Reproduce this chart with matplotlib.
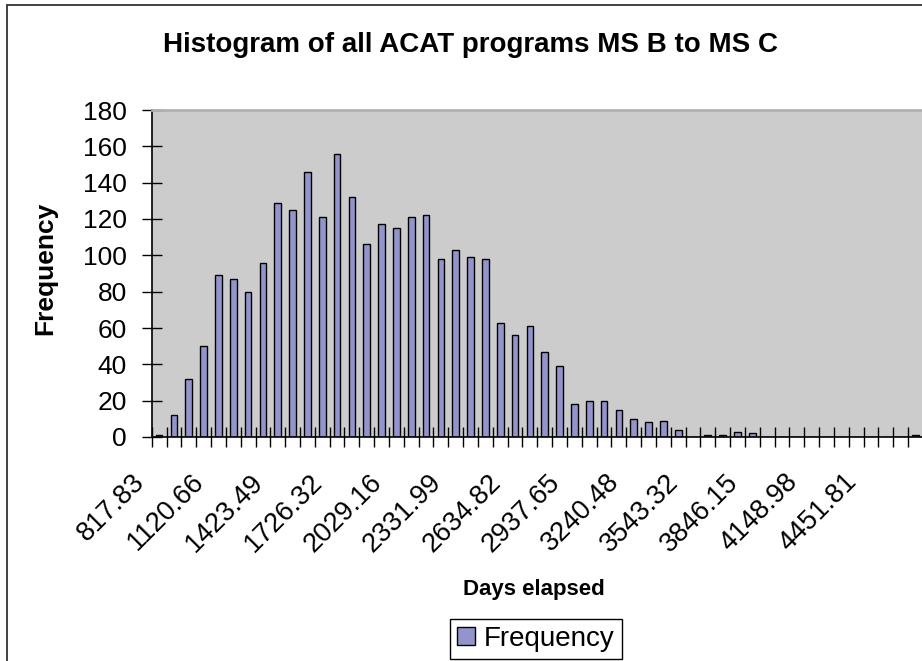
import numpy as np
import matplotlib
matplotlib.use('Agg')
import matplotlib.pyplot as plt
from matplotlib.patches import Rectangle
from matplotlib.transforms import ScaledTranslation

plt.rcParams['font.family'] = ['Liberation Sans', 'DejaVu Sans']

# histogram counts, one per bin (52 bins)
frequency = [1, 12, 32, 50, 89, 87, 80, 96, 129, 125, 146, 121, 156, 132, 106,
             117, 115, 121, 122, 98, 103, 99, 98, 63, 56, 61, 47, 39, 18, 20,
             20, 15, 10, 8, 9, 4, 0, 1, 1, 3, 2, 0, 0, 0, 0, 0, 0, 0, 0, 0, 0, 1]
# Excel only prints every 4th bin label
label_step = 4
bin_labels = ['817.83', '1120.66', '1423.49', '1726.32', '2029.16', '2331.99',
              '2634.82', '2937.65', '3240.48', '3543.32', '3846.15', '4148.98',
              '4451.81']
y_ticks = [0, 20, 40, 60, 80, 100, 120, 140, 160, 180]

W, H = 922, 661
fig = plt.figure(figsize=(W / 100, H / 100), dpi=100)

# chart area border (cropped on right and bottom)
fig.add_artist(Rectangle((6.5 / W, -0.1), 1.2, 1.1 - 4.5 / H, transform=fig.transFigure,
                         fill=False, edgecolor='#333333', linewidth=1.3))

n = len(frequency)
ax = fig.add_axes([151.7 / W, 224 / H, 14.83 * n / W, 327 / H])
ax.set_facecolor('#cccccc')
x = np.arange(n)
bars = ax.bar(x, frequency, width=0.45, color='#9494cc', edgecolor='black',
              linewidth=1.0, label='Frequency')

ax.set_xlim(-0.5, n - 0.5)
ax.set_ylim(0, 180)
ax.set_yticks(y_ticks)
ax.tick_params(axis='y', direction='inout', length=14.4, width=1, pad=10.6,
               labelsize=19)

ax.set_xticks(x[::label_step], bin_labels)
ax.set_xticks(np.arange(n + 1) - 0.5, minor=True)
ax.tick_params(axis='x', which='major', length=0, pad=23, labelsize=19.5)
ax.tick_params(axis='x', which='minor', direction='inout', length=14.4, width=1)
offset = ScaledTranslation(-9 / 100, 0, fig.dpi_scale_trans)
for lbl in ax.get_xticklabels():
    lbl.set_rotation(45)
    lbl.set_ha('right')
    lbl.set_va('top')
    lbl.set_transform(lbl.get_transform() + offset)

ax.spines['right'].set_visible(False)
ax.spines['top'].set_color('#b0b0b0')
ax.spines['top'].set_linewidth(2)
ax.spines['left'].set_linewidth(1.2)
ax.spines['bottom'].set_linewidth(1.2)

fig.text(470 / W, 1 - 51.7 / H, 'Histogram of all ACAT programs MS B to MS C',
         ha='center', va='baseline', fontsize=20, fontweight='bold')
fig.text(45 / W, 1 - 268.5 / H, 'Frequency', rotation=90, ha='center',
         va='center', fontsize=19, fontweight='bold')
fig.text(534 / W, 1 - 595 / H, 'Days elapsed', ha='center', va='baseline',
         fontsize=16, fontweight='bold')

leg = fig.legend(handles=[bars], labels=['Frequency'], loc='center',
                 bbox_to_anchor=(536 / W, 1 - 639 / H), fontsize=20,
                 fancybox=False, framealpha=1, edgecolor='black',
                 handlelength=0.62, handleheight=0.62, handletextpad=0.33,
                 borderpad=0.25, borderaxespad=0)
leg.get_frame().set_linewidth(1)

fig.savefig('out.png', dpi=100)
